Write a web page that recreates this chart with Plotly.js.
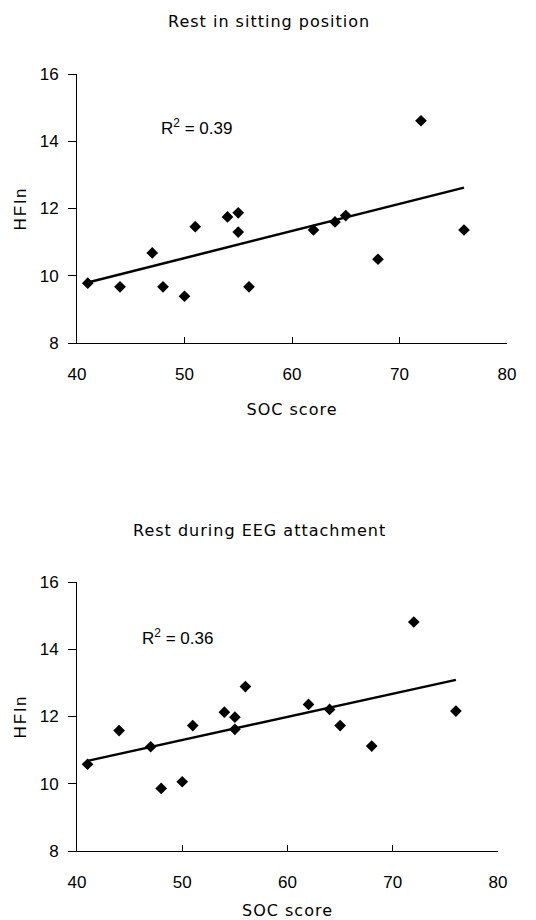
<!DOCTYPE html>
<html><head><meta charset="utf-8">
<script src="https://cdn.plot.ly/plotly-3.0.1.min.js"></script>
<style>
body{margin:0;background:#fff}#c{width:536px;height:920px}
.annotation[data-index="0"] text, .annotation[data-index="1"] text { letter-spacing: 1px; }
.xtitle, .x2title { letter-spacing: 1px; }
.ytitle, .y2title { letter-spacing: 2px; }
</style>
</head><body><div id="c"></div>
<script>
// Shared SOC scores
const socScore = [41, 44, 47, 48, 50, 51, 54, 55, 55, 56, 62, 64, 65, 68, 72, 76];
// Rest in sitting position
const hflnSitting = [9.78, 9.67, 10.68, 9.67, 9.39, 11.46, 11.75, 11.87, 11.30, 9.67, 11.36, 11.60, 11.79, 10.49, 14.61, 11.36];
const trendSitX = [41, 76];
const trendSitY = [9.80, 12.62];
// Rest during EEG attachment
const hflnEEG = [10.58, 11.58, 11.10, 9.86, 10.06, 11.73, 12.13, 11.98, 11.62, 12.89, 12.36, 12.21, 11.73, 11.12, 14.81, 12.16];
const trendEEGX = [41, 76];
const trendEEGY = [10.68, 13.09];
const titles = ["Rest in sitting position", "Rest during EEG attachment"];
const r2Labels = ["R<sup>2</sup> = 0.39", "R<sup>2</sup> = 0.36"];
const xTicks = [40, 50, 60, 70, 80];
const yTicks = [8, 10, 12, 14, 16];

const tickFont = {family: "Liberation Sans, Arial, sans-serif", size: 17, color: "#000"};
const textFont = {family: "DejaVu Sans, sans-serif", size: 16, color: "#000"};
const yTitleFont = {family: "Liberation Sans, Arial, sans-serif", size: 17, color: "#000"};
const marker = {symbol: "diamond", size: 9, color: "#000"};

const traces = [
  {x: socScore, y: hflnSitting, mode: "markers", type: "scatter", marker: marker, xaxis: "x", yaxis: "y", cliponaxis: false},
  {x: trendSitX, y: trendSitY, mode: "lines", type: "scatter", line: {color: "#000", width: 2.5}, xaxis: "x", yaxis: "y"},
  {x: socScore, y: hflnEEG, mode: "markers", type: "scatter", marker: marker, xaxis: "x2", yaxis: "y2", cliponaxis: false},
  {x: trendEEGX, y: trendEEGY, mode: "lines", type: "scatter", line: {color: "#000", width: 2.5}, xaxis: "x2", yaxis: "y2"}
];

function xax(domain, anchor) {
  return {domain: domain, anchor: anchor, range: [40, 80], tickvals: xTicks, ticktext: xTicks.map(String),
    showline: true, linecolor: "#000", linewidth: 1, ticks: "inside", ticklen: 6, tickcolor: "#000",
    showgrid: false, zeroline: false, tickfont: tickFont, ticklabelstandoff: 16,
    title: {text: "SOC score", font: textFont, standoff: 20}};
}
function yax(domain, anchor) {
  return {domain: domain, anchor: anchor, range: [8, 16], tickvals: yTicks, ticktext: yTicks.map(String),
    showline: true, linecolor: "#000", linewidth: 1, ticks: "outside", ticklen: 8, tickcolor: "#000",
    showgrid: false, zeroline: false, tickfont: tickFont, ticklabelstandoff: 6,
    title: {text: "HFln", font: yTitleFont, standoff: 8}};
}

const layout = {
  width: 536, height: 920, showlegend: false,
  paper_bgcolor: "#fff", plot_bgcolor: "#fff",
  margin: {l: 0, r: 0, t: 0, b: 0},
  xaxis: xax([77/536, 507/536], "y"),
  yaxis: yax([1 - 343/920, 1 - 74/920], "x"),
  xaxis2: xax([77/536, 498/536], "y2"),
  yaxis2: yax([1 - 851/920, 1 - 582/920], "x2"),
  annotations: [
    {text: titles[0], xref: "paper", yref: "paper", x: 269/536, y: 1 - 22/920, showarrow: false, font: textFont, xanchor: "center", yanchor: "middle"},
    {text: titles[1], xref: "paper", yref: "paper", x: 259/536, y: 1 - 530/920, showarrow: false, font: textFont, xanchor: "center", yanchor: "middle"},
    {text: r2Labels[0], xref: "x", yref: "y", x: 47.6, y: 14.42, showarrow: false, font: tickFont, xanchor: "left", yanchor: "middle"},
    {text: r2Labels[1], xref: "x2", yref: "y2", x: 46, y: 14.37, showarrow: false, font: tickFont, xanchor: "left", yanchor: "middle"}
  ]
};
Plotly.newPlot("c", traces, layout, {displayModeBar: false, staticPlot: true});
</script></body></html>
